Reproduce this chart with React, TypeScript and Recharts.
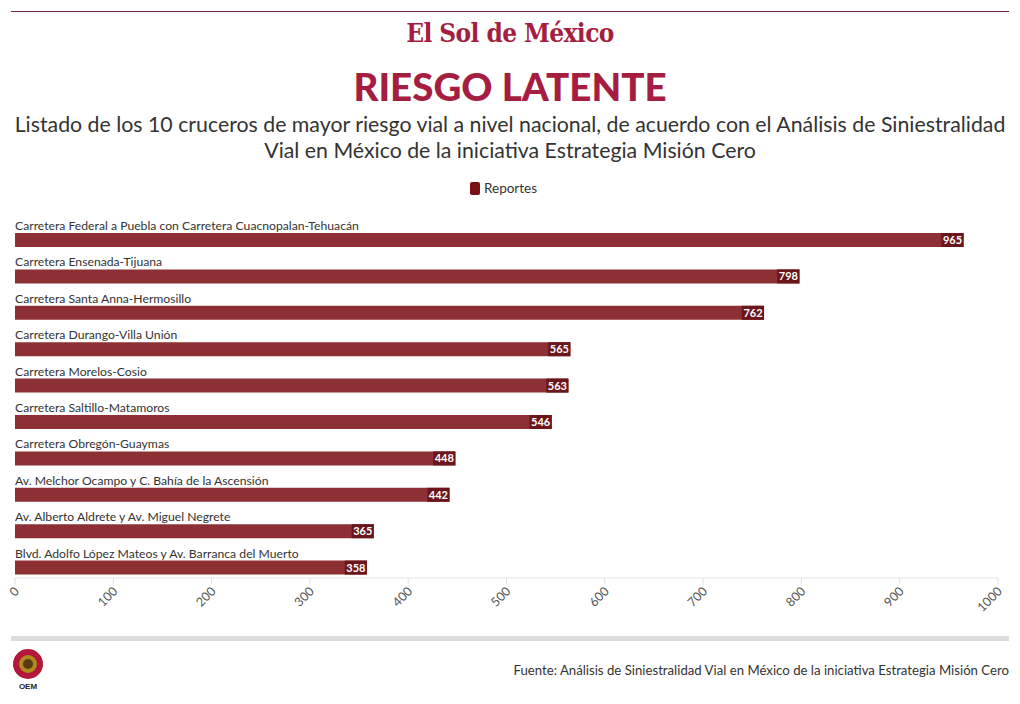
import React from "react";
import { BarChart, Bar, XAxis, YAxis, LabelList, Rectangle } from "recharts";

const CATEGORIES = [
  "Carretera Federal a Puebla con Carretera Cuacnopalan-Tehuacán",
  "Carretera Ensenada-Tijuana",
  "Carretera Santa Anna-Hermosillo",
  "Carretera Durango-Villa Unión",
  "Carretera Morelos-Cosio",
  "Carretera Saltillo-Matamoros",
  "Carretera Obregón-Guaymas",
  "Av. Melchor Ocampo y C. Bahía de la Ascensión",
  "Av. Alberto Aldrete y Av. Miguel Negrete",
  "Blvd. Adolfo López Mateos y Av. Barranca del Muerto",
];
const REPORTES = [965, 798, 762, 565, 563, 546, 448, 442, 365, 358];
const X_TICKS = [0, 100, 200, 300, 400, 500, 600, 700, 800, 900, 1000];

const DATA = CATEGORIES.map((name, i) => ({ name, reportes: REPORTES[i] }));

const FONT = "Lato, 'Open Sans', sans-serif";
const BAR_COLOR = "#8c3033";
const LABEL_BOX = "#6a161b";
const BAR_SHIFT = 8; // bars sit in the lower part of each row, name above

const BarShape = (p: any) => (
  <Rectangle x={p.x} y={p.y + BAR_SHIFT} width={p.width} height={p.height} fill={BAR_COLOR} />
);

const NameLabel = (p: any) => (
  <text x={p.x} y={p.y + BAR_SHIFT - 3} fontSize={12.2} fill="#333" fontFamily={FONT}>
    {p.value}
  </text>
);

const ValueLabel = (p: any) => {
  const txt = String(p.value);
  const w = txt.length * 6.4 + 3;
  const right = p.x + p.width;
  const top = p.y + BAR_SHIFT;
  return (
    <g>
      <rect x={right - w} y={top} width={w} height={p.height} fill={LABEL_BOX} />
      <text
        x={right - 1.5}
        y={top + p.height / 2 + 4}
        textAnchor="end"
        fontSize={11}
        fontWeight={700}
        fill="#fff"
        fontFamily={FONT}
      >
        {txt}
      </text>
    </g>
  );
};

const XTick = (p: any) => (
  <g transform={`translate(${p.x + 5},${p.y + 6})`}>
    <text transform="rotate(-45)" textAnchor="end" fontSize={12.5} fill="#555" fontFamily={FONT}>
      {p.payload.value}
    </text>
  </g>
);

export default function App() {
  return (
    <div style={{ position: "relative", width: 1020, height: 704, margin: -8, background: "#fff", fontFamily: FONT, overflow: "hidden" }}>
      <div style={{ position: "absolute", left: 11, top: 11, width: 998, height: 1, background: "#6e2a45" }} />
      <div
        style={{
          position: "absolute", left: 0, top: 18, width: 1020, textAlign: "center",
          fontFamily: "'DejaVu Serif Condensed', 'DejaVu Serif', serif", fontWeight: 700,
          fontSize: 26, color: "#a51d40", letterSpacing: -0.6,
        }}
      >
        El Sol de México
      </div>
      <div
        style={{
          position: "absolute", left: 0, top: 61, width: 1020, textAlign: "center",
          fontWeight: 900, fontSize: 38.5, color: "#a51d40", lineHeight: "50px",
        }}
      >
        RIESGO LATENTE
      </div>
      <div
        style={{
          position: "absolute", left: 0, top: 111, width: 1020, textAlign: "center",
          fontSize: 21.3, color: "#333", lineHeight: "26px",
        }}
      >
        Listado de los 10 cruceros de mayor riesgo vial a nivel nacional, de acuerdo con el Análisis de Siniestralidad
        <br />
        Vial en México de la iniciativa Estrategia Misión Cero
      </div>
      <div style={{ position: "absolute", left: 470, top: 180, display: "flex", alignItems: "center", fontSize: 13.5, color: "#333" }}>
        <span style={{ display: "inline-block", width: 10, height: 13, borderRadius: 2, background: "#7a0f14", marginRight: 4 }} />
        Reportes
      </div>
      <div style={{ position: "absolute", left: 0, top: 0 }}>
        <BarChart
          width={1020}
          height={640}
          data={DATA}
          layout="vertical"
          margin={{ top: 214, right: 22, bottom: 22, left: 15 }}
        >
          <XAxis
            type="number"
            domain={[0, 1000]}
            ticks={X_TICKS}
            height={40}
            axisLine={{ stroke: "#e4e4e4" }}
            tickLine={{ stroke: "#e0e0e0" }}
            tickSize={6}
            tick={<XTick />}
            interval={0}
          />
          <YAxis type="category" dataKey="name" hide width={0} />
          <Bar dataKey="reportes" name="Reportes" barSize={14} shape={<BarShape />} isAnimationActive={false}>
            <LabelList dataKey="name" content={<NameLabel />} />
            <LabelList dataKey="reportes" content={<ValueLabel />} />
          </Bar>
        </BarChart>
      </div>
      <div style={{ position: "absolute", left: 11, top: 636, width: 998, height: 5, background: "#dcdcdc" }} />
      <svg style={{ position: "absolute", left: 10, top: 647 }} width={38} height={44}>
        <circle cx={18} cy={17} r={15} fill="#b5163b" />
        <circle cx={18} cy={17} r={9} fill="#b08a1f" />
        <circle cx={18} cy={17} r={5} fill="#5a3a10" />
        <text x={18} y={42} textAnchor="middle" fontSize={8} fontWeight={700} fill="#222" fontFamily="sans-serif">OEM</text>
      </svg>
      <div style={{ position: "absolute", right: 11, top: 662, fontSize: 13.2, color: "#333" }}>
        Fuente: Análisis de Siniestralidad Vial en México de la iniciativa Estrategia Misión Cero
      </div>
    </div>
  );
}
